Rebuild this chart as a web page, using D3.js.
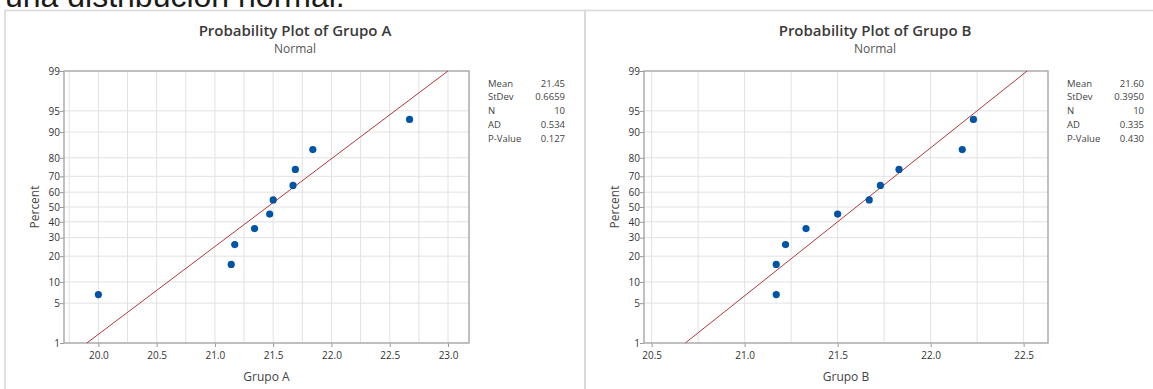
<!DOCTYPE html>
<html><head><meta charset="utf-8">
<script src="https://cdn.jsdelivr.net/npm/d3@7"></script>
<style>
html,body{margin:0;padding:0;background:#fff;overflow:hidden}
svg{display:block}
text{font-family:"Open Sans","Noto Sans",sans-serif}
</style></head>
<body>
<svg id="c" width="1153" height="389"></svg>
<script>
// ---------- data ----------
const headerText = "una distribución normal.";
const titlesPanel = ["Probability Plot of Grupo A", "Probability Plot of Grupo B"];
const subtitle = "Normal";
const xLabels = ["Grupo A", "Grupo B"];
const yLabel = "Percent";
const percentTicks = [1, 5, 10, 20, 30, 40, 50, 60, 70, 80, 90, 95, 99];
const xTicksA = [20.0, 20.5, 21.0, 21.5, 22.0, 22.5, 23.0];
const xTicksB = [20.5, 21.0, 21.5, 22.0, 22.5];
const xGridA = [19.75, 20.0, 20.25, 20.5, 20.75, 21.0, 21.25, 21.5, 21.75, 22.0, 22.25, 22.5, 22.75, 23.0];
const xGridB = [20.5, 20.75, 21.0, 21.25, 21.5, 21.75, 22.0, 22.25, 22.5];
const valuesA = [20.0, 21.14, 21.17, 21.34, 21.47, 21.5, 21.67, 21.69, 21.84, 22.67];
const valuesB = [21.17, 21.17, 21.22, 21.33, 21.5, 21.67, 21.73, 21.83, 22.17, 22.23];
const plotPercents = [6.7, 16.3, 26.0, 35.6, 45.2, 54.8, 64.4, 74.0, 83.7, 93.3];
const meanA = 21.45, sdA = 0.6659;
const meanB = 21.60, sdB = 0.3950;
const statLabels = ["Mean", "StDev", "N", "AD", "P-Value"];
const statsA = ["21.45", "0.6659", "10", "0.534", "0.127"];
const statsB = ["21.60", "0.3950", "10", "0.335", "0.430"];
const xDomainA = [19.705, 23.18];
const xDomainB = [20.459, 22.631];

// inverse normal CDF (Acklam)
function probit(p){
  const a=[-3.969683028665376e+01,2.209460984245205e+02,-2.759285104469687e+02,1.383577518672690e+02,-3.066479806614716e+01,2.506628277459239e+00];
  const b=[-5.447609879822406e+01,1.615858368580409e+02,-1.556989798598866e+02,6.680131188771972e+01,-1.328068155288572e+01];
  const c=[-7.784894002430293e-03,-3.223964580411365e-01,-2.400758277161838e+00,-2.549671010115819e+00,4.374664141464968e+00,2.938163982698783e+00];
  const d=[7.784695709041462e-03,3.224671290700398e-01,2.445134137142996e+00,3.754408661907416e+00];
  const pl=0.02425, ph=1-pl; let q,r;
  if(p<pl){q=Math.sqrt(-2*Math.log(p));return (((((c[0]*q+c[1])*q+c[2])*q+c[3])*q+c[4])*q+c[5])/((((d[0]*q+d[1])*q+d[2])*q+d[3])*q+1);}
  if(p<=ph){q=p-0.5;r=q*q;return (((((a[0]*r+a[1])*r+a[2])*r+a[3])*r+a[4])*r+a[5])*q/(((((b[0]*r+b[1])*r+b[2])*r+b[3])*r+b[4])*r+1);}
  q=Math.sqrt(-2*Math.log(1-p));return -(((((c[0]*q+c[1])*q+c[2])*q+c[3])*q+c[4])*q+c[5])/((((d[0]*q+d[1])*q+d[2])*q+d[3])*q+1);
}

const svg = d3.select("#c");

// header text (cut off at top, as in the reference)
svg.append("text").attr("x", 5).attr("y", 7)
  .style("font-family", "'Liberation Sans', Arial, sans-serif")
  .style("font-size", "32px").attr("fill", "#1a1a1a").text(headerText);

function panel(cfg){
  const g = svg.append("g");
  g.append("rect").attr("x", cfg.px).attr("y", 10.5).attr("width", 580).attr("height", 400)
    .attr("fill", "none").attr("stroke", "#d9d9d9").attr("stroke-width", 1.6);

  const L = cfg.L, R = cfg.R, T = 71, B = 343;
  const x = d3.scaleLinear().domain(cfg.xDomain).range([L, R]);
  const y = d3.scaleLinear().domain([probit(0.01), probit(0.99)]).range([B, T]);
  const yp = p => y(probit(p / 100));

  g.append("text").attr("x", cfg.px + 290).attr("y", 36).attr("text-anchor", "middle")
    .style("font-size", "15px").style("font-weight", 600).attr("fill", "#3a3a3a").text(cfg.title);
  g.append("text").attr("x", cfg.px + 290).attr("y", 53).attr("text-anchor", "middle")
    .style("font-size", "12px").attr("fill", "#555").text(subtitle);

  g.append("g").selectAll("line").data(cfg.xGrid).join("line")
    .attr("x1", d => x(d)).attr("x2", d => x(d)).attr("y1", T).attr("y2", B)
    .attr("stroke", "#e2e2e2").attr("stroke-width", 1);
  g.append("g").selectAll("line").data(percentTicks.slice(1, -1)).join("line")
    .attr("x1", L).attr("x2", R).attr("y1", d => yp(d)).attr("y2", d => yp(d))
    .attr("stroke", "#e2e2e2").attr("stroke-width", 1);

  const xAxis = d3.axisBottom(x).tickValues(cfg.xTicks).tickFormat(d3.format(".1f")).tickSize(4).tickSizeOuter(0);
  const ax = g.append("g").attr("transform", `translate(0,${B})`).call(xAxis);
  ax.select(".domain").remove();
  ax.selectAll("line").attr("stroke", "#999");
  ax.selectAll("text").style("font-size", "10px").attr("fill", "#333").attr("dy", "0.9em");

  const yAxis = d3.axisLeft(y).tickValues(percentTicks.map(p => probit(p / 100)))
    .tickFormat((d, i) => percentTicks[i]).tickSize(4).tickSizeOuter(0);
  const ay = g.append("g").attr("transform", `translate(${L},0)`).call(yAxis);
  ay.select(".domain").remove();
  ay.selectAll("line").attr("stroke", "#999");
  ay.selectAll("text").style("font-size", "10px").attr("fill", "#333").attr("x", -4);

  g.append("rect").attr("x", L).attr("y", T).attr("width", R - L).attr("height", B - T)
    .attr("fill", "none").attr("stroke", "#a6a6a6").attr("stroke-width", 1.4);

  const p1 = 0.01, p2 = 0.99;
  g.append("line")
    .attr("x1", x(cfg.mean + probit(p1) * cfg.sd)).attr("y1", y(probit(p1)))
    .attr("x2", x(cfg.mean + probit(p2) * cfg.sd)).attr("y2", y(probit(p2)))
    .attr("stroke", "#b2393b").attr("stroke-width", 1);

  g.append("g").selectAll("circle").data(cfg.values).join("circle")
    .attr("cx", d => x(d)).attr("cy", (d, i) => yp(plotPercents[i]))
    .attr("r", 3.6).attr("fill", "#0054a6");

  g.append("text").attr("x", (L + R) / 2).attr("y", 381).attr("text-anchor", "middle")
    .style("font-size", "12px").attr("fill", "#444").text(cfg.xLabel);
  g.append("text").attr("transform", `translate(${L - 25},${(T + B) / 2}) rotate(-90)`)
    .attr("text-anchor", "middle").style("font-size", "12px").attr("fill", "#444").text(yLabel);

  const st = g.append("g");
  statLabels.forEach((lab, i) => {
    const yy = 86.5 + i * 13.8;
    st.append("text").attr("x", cfg.sx).attr("y", yy).style("font-size", "9.5px").attr("fill", "#444").text(lab);
    st.append("text").attr("x", cfg.sx + 77).attr("y", yy).attr("text-anchor", "end")
      .style("font-size", "9.5px").attr("fill", "#444").text(cfg.stats[i]);
  });
}

panel({px: 5, L: 64, R: 469, xDomain: xDomainA, xTicks: xTicksA, xGrid: xGridA, values: valuesA,
  mean: meanA, sd: sdA, stats: statsA, title: titlesPanel[0], xLabel: xLabels[0], sx: 488});
panel({px: 585, L: 644, R: 1048, xDomain: xDomainB, xTicks: xTicksB, xGrid: xGridB, values: valuesB,
  mean: meanB, sd: sdB, stats: statsB, title: titlesPanel[1], xLabel: xLabels[1], sx: 1067});
</script>
</body></html>
